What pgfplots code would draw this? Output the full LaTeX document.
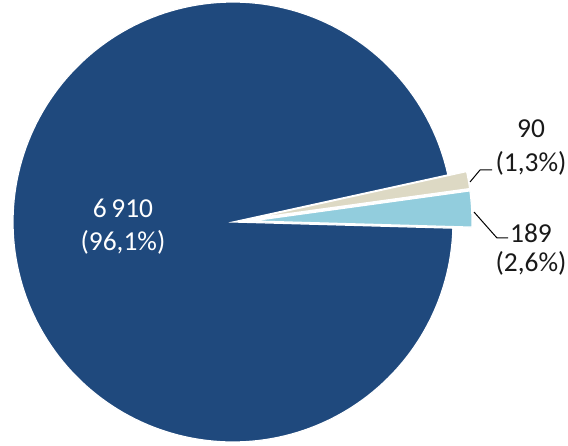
\documentclass[border=0pt]{standalone}
\usepackage{pgfplots}
\pgfplotsset{compat=1.18}
\usepackage{fontspec}
\setmainfont{Carlito}
\definecolor{bigblue}{RGB}{31,73,125}
\definecolor{lightblue}{RGB}{146,205,221}
\definecolor{beige}{RGB}{221,217,196}
% data
\def\vA{189}   % light blue
\def\vB{90}    % beige
\def\vC{6910}  % dark blue
\pgfmathsetmacro\total{\vA+\vB+\vC}
\pgfmathsetmacro\sA{-1.6}
\pgfmathsetmacro\eA{\sA+360*(\vA/\total)}
\pgfmathsetmacro\eB{\eA+360*(\vB/\total)}
\pgfmathsetmacro\eC{\eB+360*(\vC/\total)}
\pgfmathsetmacro\mA{(\sA+\eA)/2}
\pgfmathsetmacro\mB{(\eA+\eB)/2}
\def\cx{233}
\def\cy{224}
\def\R{220}
\def\ex{19}
\pgfmathsetmacro\axA{\cx+\ex*cos(\mA)}
\pgfmathsetmacro\ayA{\cy+\ex*sin(\mA)}
\pgfmathsetmacro\axB{\cx+\ex*cos(\mB)}
\pgfmathsetmacro\ayB{\cy+\ex*sin(\mB)}
\begin{document}
\begin{tikzpicture}
\useasboundingbox (0,0) rectangle (568bp,446bp);
\begin{axis}[
  at={(0,0)}, anchor=south west,
  x=1bp, y=1bp, xmin=0, xmax=568, ymin=0, ymax=446,
  hide axis, clip=false,
]
\addplot[fill=bigblue, draw=white, line width=1.2bp, domain=\eB:\eC, samples=200, variable=\t]
  ({\cx+\R*cos(\t)},{\cy+\R*sin(\t)}) -- (axis cs:\cx,\cy) -- cycle;
\addplot[fill=lightblue, draw=white, line width=1.2bp, domain=\sA:\eA, samples=20, variable=\t]
  ({\axA+\R*cos(\t)},{\ayA+\R*sin(\t)}) -- (axis cs:\axA,\ayA) -- cycle;
\addplot[fill=beige, draw=white, line width=1.2bp, domain=\eA:\eB, samples=20, variable=\t]
  ({\axB+\R*cos(\t)},{\ayB+\R*sin(\t)}) -- (axis cs:\axB,\ayB) -- cycle;
% leader lines
\draw[black, line width=1bp] (axis cs:470,264) -- (axis cs:480,276) -- (axis cs:492,276);
\draw[black, line width=1bp] (axis cs:474,234) -- (axis cs:497,208) -- (axis cs:508,208);
% labels
\begin{scope}[font=\fontsize{27.5}{33}\selectfont]
\node[white] at (axis cs:123,238) {6\,910};
\node[white] at (axis cs:123,204) {(96,1\%)};
\node[black!90] at (axis cs:531,317) {90};
\node[black!90] at (axis cs:531,283) {(1,3\%)};
\node[black!90] at (axis cs:531,213) {189};
\node[black!90] at (axis cs:531,183) {(2,6\%)};
\end{scope}
\end{axis}
\end{tikzpicture}
\end{document}
